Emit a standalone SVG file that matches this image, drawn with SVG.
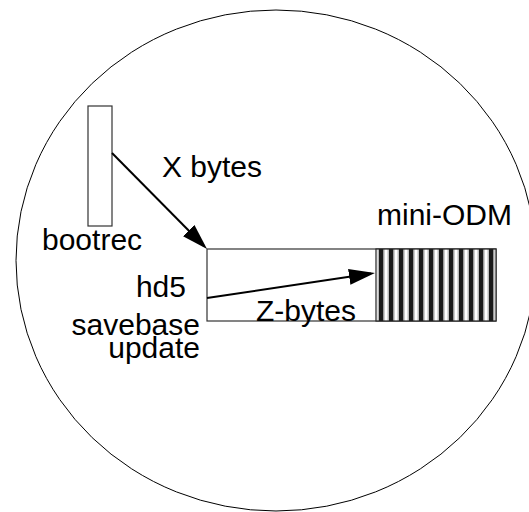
<svg xmlns="http://www.w3.org/2000/svg" width="529" height="512" viewBox="0 0 529 512">
<style>
.lbl{font-family:"Liberation Sans",Arial,sans-serif;font-size:30px;fill:#000}
.box{fill:#fff;stroke:#333;stroke-width:1.2}
.conn{stroke:#000;stroke-width:2;fill:none}
</style>
<defs>
<marker id="ah" markerUnits="userSpaceOnUse" markerWidth="30" markerHeight="20" refX="22" refY="8" orient="auto">
<path d="M0,0 L26,8 L0,16 z" fill="#000"/>
</marker>
<pattern id="stripes" patternUnits="userSpaceOnUse" x="376" y="0" width="10" height="10">
<rect x="0" y="0" width="10" height="10" fill="#fff"/>
<rect x="3" y="0" width="4" height="10" fill="#1a1a1a"/>
<rect x="7" y="0" width="1.5" height="10" fill="#999"/>
<rect x="1.5" y="0" width="1.5" height="10" fill="#bbb"/>
</pattern>
</defs>
<g id="disk">
<ellipse cx="276" cy="260.5" rx="260" ry="250.5" fill="none" stroke="#000" stroke-width="1"/>
</g>
<g id="bootrec">
<rect class="box" x="88" y="106" width="24" height="120"/>
<text class="lbl" x="42" y="250">bootrec</text>
</g>
<g id="hd5">
<rect class="box" x="207" y="249" width="289" height="72"/>
<text class="lbl" x="186" y="297" text-anchor="end">hd5</text>
<text class="lbl" x="200" y="335" text-anchor="end">savebase</text>
<text class="lbl" x="200" y="358" text-anchor="end">update</text>
</g>
<g id="mini-odm">
<rect x="376" y="249" width="120" height="72" fill="url(#stripes)" stroke="#222" stroke-width="1.2"/>
<text class="lbl" x="377" y="225">mini-ODM</text>
</g>
<g id="connectors">
<line class="conn" x1="112" y1="153" x2="204.2" y2="246.2" marker-end="url(#ah)"/>
<text class="lbl" x="162" y="177">X bytes</text>
<line class="conn" x1="207" y1="298" x2="371" y2="273.6" marker-end="url(#ah)"/>
<text class="lbl" x="256" y="321">Z-bytes</text>
</g>
</svg>
